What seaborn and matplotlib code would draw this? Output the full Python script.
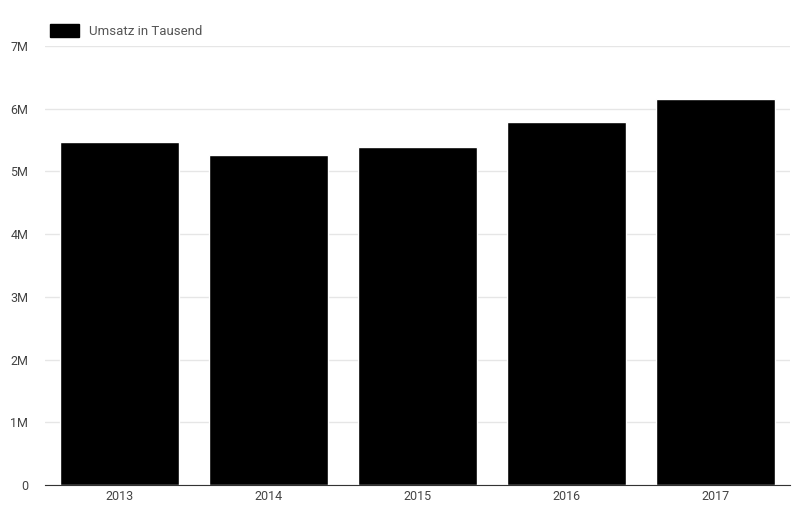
import matplotlib
matplotlib.use("Agg")
import matplotlib.pyplot as plt
import seaborn as sns
import pandas as pd
from matplotlib.patches import Patch

years = ["2013", "2014", "2015", "2016", "2017"]
umsatz = [5470000, 5260000, 5390000, 5790000, 6160000]
y_ticks = [0, 1e6, 2e6, 3e6, 4e6, 5e6, 6e6, 7e6]
y_labels = ["0", "1M", "2M", "3M", "4M", "5M", "6M", "7M"]

df = pd.DataFrame({"Jahr": years, "Umsatz": umsatz})

sns.set_style("white")
plt.rcParams['font.family'] = ['Roboto', 'DejaVu Sans']

fig = plt.figure(figsize=(8.12, 5.25), dpi=100)
ax = fig.add_axes([45/812, 40/525, 745/812, (485-46)/525])

sns.barplot(data=df, x="Jahr", y="Umsatz", color="black", width=0.8, ax=ax, saturation=1)

ax.set_ylim(0, 7e6)
ax.set_yticks(y_ticks)
ax.set_yticklabels(y_labels)
ax.set_xlim(-0.5, 4.5)
ax.yaxis.grid(True, color="#e6e6e6", linewidth=1)
ax.set_axisbelow(True)
for s in ["top", "right", "left"]:
    ax.spines[s].set_visible(False)
ax.spines["bottom"].set_color("#333333")
ax.tick_params(axis="both", length=0, labelsize=9, colors="#444444")
ax.tick_params(axis="y", pad=12)
ax.set_xlabel("")
ax.set_ylabel("")

fig.legend(handles=[Patch(color="black", label="Umsatz in Tausend")],
           loc="upper left", bbox_to_anchor=(38/812, 1 - 12/525), frameon=False,
           fontsize=9.5, labelcolor="#555555", handlelength=2.2, handleheight=1.1)

fig.savefig("out.png", dpi=100)
